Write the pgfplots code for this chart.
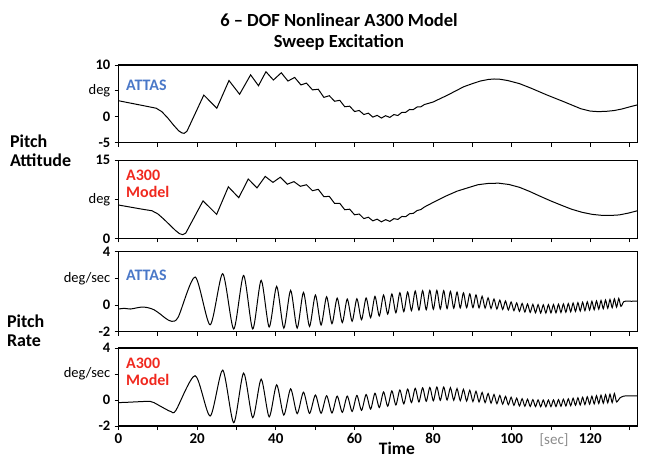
\documentclass[border=0pt]{standalone}
\usepackage{fontspec}
\setmainfont{Carlito}
\usepackage{pgfplots}
\pgfplotsset{compat=1.18}
\definecolor{attas}{HTML}{4A78C8}
\definecolor{model}{HTML}{F0281E}
\definecolor{secgray}{HTML}{8A8A8A}

\begin{document}
\begin{tikzpicture}[x=1pt,y=1pt]
\useasboundingbox (0,0) rectangle (651,461);
\tikzset{tag/.style={anchor=west, align=left, font=\fontsize{16}{17}\selectfont\bfseries}}
\pgfplotsset{
  panel/.style={scale only axis, width=519pt, anchor=south west,
    xmin=0, xmax=132, xtick={0,10,...,130}, xticklabels={},
    xtick pos=bottom, ytick pos=left, tick align=outside,
    major tick length=4pt, axis line style={line width=1.1pt},
    tick style={line width=0.8pt, black},
    yticklabel style={font=\fontsize{14.5}{15}\selectfont, inner ysep=0.5pt, inner xsep=4pt}},
  trace/.style={black, line width=1pt, no marks},
}

% pitch attitude, ATTAS
\begin{axis}[panel, at={(118.5pt,318.3pt)}, height=77.7pt, ymin=-5, ymax=10,
  ytick={-5,0,5,10}, yticklabels={\textbf{-5},\textbf{0},deg,\textbf{10}}]
\addplot[trace] coordinates {
 (0,3.1) (2,2.8) (4,2.5) (6,2.2) (8,1.9) (9.6,1.65) (11,1.0) (12.5,-0.2)
 (14,-1.6) (15.3,-2.7) (16.1,-3.1) (16.7,-3.2) (17.4,-2.8) (21.7,4.2)
 (25.0,1.65) (28.1,7.0) (30.8,4.35) (33.6,8.1) (35.6,6.0) (37.5,8.7)
 (39.4,7.1) (41.4,8.5) (43.1,6.9) (44.8,7.6) (46.4,6.15) (47.8,6.5)
 (49.34,5.2) (50.81,5.32) (52.23,3.75) (53.61,4.07) (54.96,3.0) (56.27,3.18)
 (57.55,1.94) (58.8,2.05) (60.03,1.02) (61.22,1.22) (62.4,0.44) (63.55,0.7)
 (64.68,-0.06) (65.79,0.28) (66.87,-0.24) (67.94,0.21) (69.0,-0.12) (70.04,0.43)
 (71.05,0.25) (72.06,0.85) (73.05,0.87) (74.03,1.41) (74.99,1.4) (75.94,1.89)
 (76.88,1.92) (77.81,2.37) (80,2.85) (83.6,4.15) (87.8,5.8) (90,6.4) (92,6.9)
 (94,7.2) (95.5,7.3) (97,7.25) (99,7.0) (102,6.4) (105,5.5) (109,4.2)
 (113.3,2.9) (117.6,1.55) (120,1.1) (122,1.0) (124,1.05) (126,1.2) (128,1.5)
 (130.4,2.0) (132,2.3)};
\node[tag, text=attas] at (rel axis cs:0.008,0.74) {ATTAS};
\end{axis}

% pitch attitude, A300 model
\begin{axis}[panel, at={(118.5pt,222.7pt)}, height=78pt, ymin=0, ymax=15,
  ytick={0,7.5,15}, yticklabels={\textbf{0},deg,\textbf{15}}]
\addplot[trace] coordinates {
 (0,6.4) (3,6.0) (6,5.6) (8.5,5.3) (10,4.7) (11.5,3.7) (13,2.6) (14.5,1.5)
 (15.5,0.9) (16.3,0.7) (17.1,1.0) (21.5,7.2) (24.96,4.6) (27.94,9.9)
 (30.59,7.8) (33.0,11.4) (35.23,9.7) (37.32,11.9) (39.28,10.75) (41.15,11.75)
 (42.92,10.4) (44.62,10.9) (46.25,10.0) (47.82,10.3) (49.34,9.15) (50.81,9.42)
 (52.23,8.0) (53.61,8.07) (54.96,6.7) (56.27,6.73) (57.55,5.49) (58.8,5.6)
 (60.03,4.52) (61.22,4.67) (62.4,3.79) (63.55,4.05) (64.68,3.36) (65.79,3.68)
 (66.87,3.16) (67.94,3.59) (69.0,3.25) (70.04,3.78) (71.05,3.63) (72.06,4.2)
 (73.05,4.16) (74.03,4.72) (74.99,4.8) (75.94,5.34) (76.88,5.52) (77.81,6.02)
 (80.8,7.2) (83.5,8.2) (86.1,9.06) (88.8,9.7) (91.4,10.3) (94,10.55)
 (96.7,10.6) (99.3,10.35) (102,9.8) (104.6,9.0) (107.2,8.1) (109.9,7.2)
 (112.5,6.4) (115.2,5.6) (117.9,5.0) (120.5,4.6) (123.1,4.4) (125.3,4.4)
 (127.4,4.5) (129.7,4.85) (132,5.3)};
\node[tag, text=model] at (rel axis cs:0.008,0.7) {A300\\Model};
\end{axis}

% pitch rate, ATTAS
\begin{axis}[panel, at={(118.5pt,129.3pt)}, height=80pt, ymin=-2, ymax=4,
  ytick={-2,0,2,4}, yticklabels={\textbf{-2},\textbf{0},deg/sec,\textbf{4}}]
\addplot[trace, smooth, tension=0.45] coordinates {
 (0,-0.3) (1.5,-0.25) (3,-0.3) (4.5,-0.22) (6,-0.15) (7.5,-0.2) (9,-0.35)
 (10.5,-0.65) (12,-1.0) (13.5,-1.22) (15.2,-0.9) (19.5,2.1) (23.31,-1.48)
 (26.5,2.35) (29.3,-1.8) (31.82,2.22) (34.14,-1.8) (36.29,1.85) (38.32,-1.65)
 (40.23,1.4) (42.04,-1.73) (43.78,1.1) (45.44,-1.73) (47.04,0.95) (48.58,-1.6)
 (50.08,0.75) (51.52,-1.5) (52.93,0.62) (54.29,-1.4) (55.62,0.52) (56.92,-1.32)
 (58.18,0.45) (59.42,-1.22) (60.63,0.47) (61.81,-1.1) (62.98,0.53) (64.12,-0.95)
 (65.23,0.65) (66.33,-0.82) (67.41,0.75) (68.47,-0.68) (69.52,0.83) (70.55,-0.58)
 (71.56,0.92) (72.56,-0.5) (73.54,0.98) (74.51,-0.42) (75.47,1.05) (76.41,-0.38)
 (77.35,1.08) (78.27,-0.35) (79.18,1.1) (80.08,-0.32) (80.97,1.1) (81.84,-0.3)
 (82.71,1.08) (83.57,-0.27) (84.42,1.03) (85.26,-0.24) (86.1,0.97) (86.92,-0.22)
 (87.73,0.92) (88.54,-0.2) (89.34,0.84) (90.14,-0.2) (90.92,0.76) (91.7,-0.21)
 (92.48,0.66) (93.24,-0.23) (94.0,0.54) (94.75,-0.26) (95.5,0.45) (96.24,-0.3)
 (96.98,0.37) (97.71,-0.33) (98.43,0.3) (99.15,-0.37) (99.86,0.23) (100.57,-0.42)
 (101.27,0.16) (101.97,-0.47) (102.66,0.12) (103.35,-0.52) (104.03,0.08)
 (104.71,-0.55) (105.39,0.05) (106.06,-0.58) (106.72,0.03) (107.38,-0.6)
 (108.04,0.02) (108.69,-0.6) (109.34,0.03) (109.99,-0.59) (110.63,0.04)
 (111.26,-0.58) (111.9,0.06) (112.53,-0.56) (113.15,0.08) (113.78,-0.54)
 (114.4,0.11) (115.01,-0.51) (115.62,0.15) (116.23,-0.48) (116.84,0.18)
 (117.44,-0.45) (118.04,0.21) (118.63,-0.42) (119.23,0.24) (119.82,-0.38)
 (120.4,0.28) (120.99,-0.35) (121.57,0.31) (122.15,-0.31) (122.72,0.34)
 (123.3,-0.28) (123.87,0.38) (124.43,-0.24) (125.0,0.42) (125.56,-0.2)
 (126.12,0.46) (126.68,-0.16) (127.23,0.5) (127.78,-0.1) (128.5,0.25)
 (129.5,0.3) (130.5,0.28) (131.3,0.3) (132,0.28)};
\node[tag, text=attas] at (rel axis cs:0.008,0.7) {ATTAS};
\end{axis}

% pitch rate, A300 model
\begin{axis}[panel, at={(118.5pt,35pt)}, height=78pt, ymin=-2, ymax=4,
  ytick={-2,0,2,4}, yticklabels={\textbf{-2},\textbf{0},deg/sec,\textbf{4}},
  xticklabels={\textbf{0},,\textbf{20},,\textbf{40},,\textbf{60},,\textbf{80},,\textbf{100},,\textbf{120},},
  xticklabel style={font=\fontsize{15}{16}\selectfont}]
\addplot[trace, smooth, tension=0.45] coordinates {
 (0,-0.2) (2,-0.18) (4,-0.15) (6,-0.12) (8,-0.1) (9,-0.2) (10.5,-0.45)
 (12,-0.7) (13.4,-0.9) (14.6,-0.8) (19.5,1.87) (23.31,-1.23) (26.5,2.3)
 (29.3,-1.75) (31.82,2.07) (34.14,-1.36) (36.29,1.6) (38.32,-1.3) (40.23,1.17)
 (42.04,-1.16) (43.78,0.86) (45.44,-1.05) (47.04,0.6) (48.58,-1.03) (50.08,0.38)
 (51.52,-1.02) (52.93,0.33) (54.29,-1.0) (55.62,0.3) (56.92,-0.95) (58.18,0.3)
 (59.42,-0.88) (60.63,0.35) (61.81,-0.8) (62.98,0.42) (64.12,-0.7) (65.23,0.52)
 (66.33,-0.58) (67.41,0.62) (68.47,-0.48) (69.52,0.7) (70.55,-0.38) (71.56,0.77)
 (72.56,-0.3) (73.54,0.84) (74.51,-0.2) (75.47,0.9) (76.41,-0.15) (77.35,0.94)
 (78.27,-0.1) (79.18,0.97) (80.08,-0.06) (80.97,1.0) (81.84,-0.03) (82.71,1.0)
 (83.57,0.0) (84.42,0.95) (85.26,-0.02) (86.1,0.88) (86.92,-0.05) (87.73,0.82)
 (88.54,-0.08) (89.34,0.75) (90.14,-0.12) (90.92,0.67) (91.7,-0.15) (92.48,0.58)
 (93.24,-0.2) (94.0,0.5) (94.75,-0.24) (95.5,0.42) (96.24,-0.28) (96.98,0.35)
 (97.71,-0.32) (98.43,0.28) (99.15,-0.36) (99.86,0.21) (100.57,-0.41)
 (101.27,0.14) (101.97,-0.46) (102.66,0.1) (103.35,-0.48) (104.03,0.06)
 (104.71,-0.5) (105.39,0.03) (106.06,-0.51) (106.72,0.01) (107.38,-0.52)
 (108.04,0.0) (108.69,-0.52) (109.34,0.0) (109.99,-0.51) (110.63,0.01)
 (111.26,-0.5) (111.9,0.03) (112.53,-0.48) (113.15,0.06) (113.78,-0.46)
 (114.4,0.09) (115.01,-0.44) (115.62,0.13) (116.23,-0.41) (116.84,0.17)
 (117.44,-0.38) (118.04,0.21) (118.63,-0.35) (119.23,0.25) (119.82,-0.32)
 (120.4,0.29) (120.99,-0.3) (121.57,0.33) (122.15,-0.27) (122.72,0.37)
 (123.3,-0.25) (123.87,0.41) (124.43,-0.22) (125.0,0.45) (125.56,-0.2)
 (126.12,0.5) (126.68,-0.15) (127.5,0.15) (128.5,0.3) (130,0.32) (132,0.32)};
\node[tag, text=model] at (rel axis cs:0.008,0.7) {A300\\Model};
\end{axis}

\node[font=\fontsize{18.5}{20}\selectfont\bfseries] at (339,441) {6 \textendash{} DOF Nonlinear A300 Model};
\node[font=\fontsize{18.5}{20}\selectfont\bfseries] at (339,419) {Sweep Excitation};
\node[anchor=west, align=left, font=\fontsize{18}{19}\selectfont\bfseries] at (6.5,310.5) {Pitch\\Attitude};
\node[anchor=west, align=left, font=\fontsize{18}{19}\selectfont\bfseries] at (3.5,130.5) {Pitch\\Rate};
\node[font=\fontsize{17.5}{18}\selectfont\bfseries, inner sep=1pt] at (397,12.5) {Time};
\node[text=secgray, font=\fontsize{15}{16}\selectfont] at (554,21) {[sec]};
\end{tikzpicture}
\end{document}
